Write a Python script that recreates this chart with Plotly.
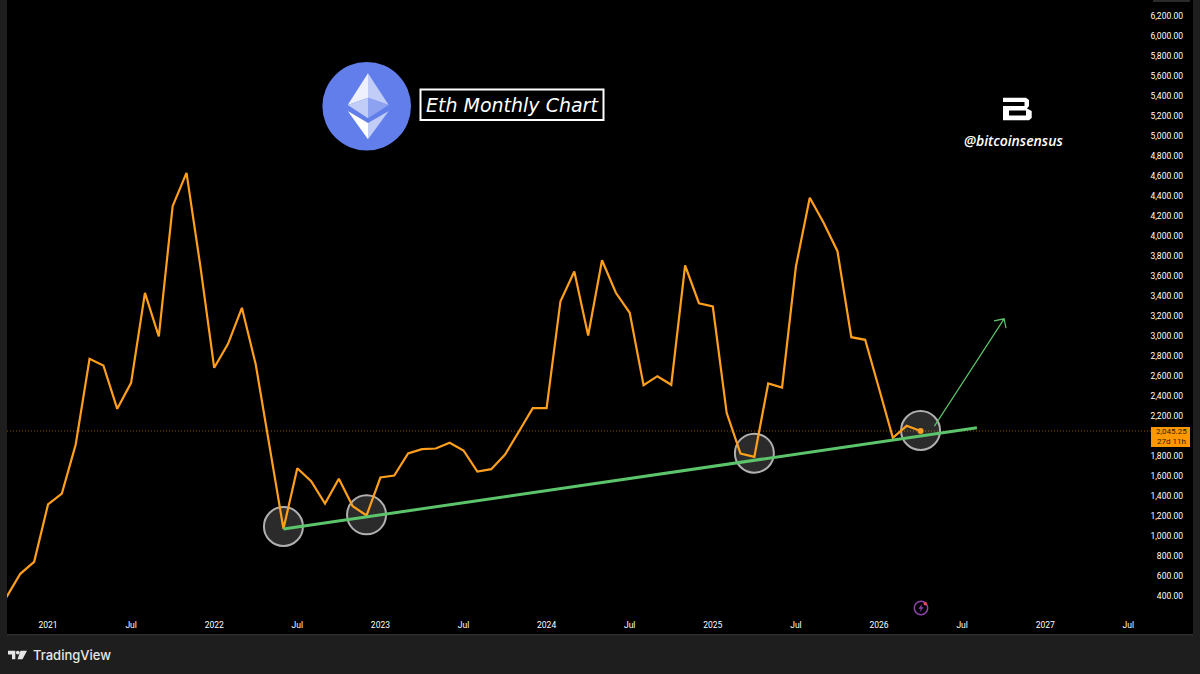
import plotly.graph_objects as go

W, H = 1200, 674

# monthly closes, Oct 2020 = -3, Jan 2021 = 0
months = list(range(-3, 64))
closes = [
    383, 617, 737,
    1310, 1420, 1910, 2767, 2700, 2267, 2527, 3427, 2990, 4293, 4627, 3693,
    2677, 2917, 3277, 2710, 1890, 1067, 1673, 1543, 1320, 1567, 1293, 1200,
    1580, 1600, 1820, 1863, 1870, 1927, 1850, 1640, 1663, 1810, 2040, 2273,
    2273, 3343, 3640, 3000, 3753, 3427, 3227, 2503, 2593, 2507, 3700, 3323,
    3290, 2227, 1820, 1787, 2520, 2480, 3690, 4377, 4127, 3843, 2983, 2957,
    2470, 1977, 2097, 2045,
]

trend_x = [17, 67.07]
trend_y = [1065, 2077]

circle_x = [17, 23, 51, 63]
circle_y = [1090, 1207, 1823, 2050]

arrow_x = [64.0, 69.03, 68.3, 69.03, 69.17]
arrow_y = [2093, 3167, 3147, 3167, 3073]

x_tick_vals = [0, 6, 12, 18, 24, 30, 36, 42, 48, 54, 60, 66, 72, 78]
x_tick_text = ["2021", "Jul", "2022", "Jul", "2023", "Jul", "2024", "Jul", "2025", "Jul", "2026", "Jul", "2027", "Jul"]
# 2,000 sits behind the last price tag
y_tick_vals = [v for v in range(400, 6400, 200) if v != 2000]
y_tick_text = [f"{v:,.2f}" for v in y_tick_vals]

last_price = 2045.25
ORANGE = "#ff9f1c"
GREEN = "#5cc46a"
PANEL = "#1e1e1e"


def px(x):
    return x / W


def py(y):
    return 1 - y / H


def poly(points, fill):
    path = "M " + " L ".join(f"{px(x)},{py(y)}" for x, y in points) + " Z"
    return dict(type="path", xref="paper", yref="paper", path=path,
                fillcolor=fill, line=dict(width=0), layer="above")


def disc(cx, cy, r, fill, line_color=None, line_width=0):
    return dict(type="circle", xref="paper", yref="paper",
                x0=px(cx - r), x1=px(cx + r), y0=py(cy + r), y1=py(cy - r),
                fillcolor=fill, line=dict(color=line_color, width=line_width), layer="above")


def rect(x0, y0, x1, y1, fill, line_color=None, line_width=0):
    return dict(type="rect", xref="paper", yref="paper",
                x0=px(x0), x1=px(x1), y0=py(y1), y1=py(y0),
                fillcolor=fill, line=dict(color=line_color, width=line_width), layer="above")


def label(x, y, text, size, color, family="Roboto", anchor="center", **font_extra):
    return dict(xref="paper", yref="paper", x=px(x), y=py(y), text=text, showarrow=False,
                xanchor=anchor, yanchor="middle", borderpad=0,
                font=dict(family=family, size=size, color=color, **font_extra))


fig = go.Figure()

fig.add_trace(go.Scatter(
    x=circle_x, y=circle_y, mode="markers", hoverinfo="skip",
    marker=dict(size=39, color="rgba(255,255,255,0.17)", line=dict(color="#b0b0b0", width=2)),
))
fig.add_trace(go.Scatter(x=arrow_x, y=arrow_y, mode="lines", line=dict(color=GREEN, width=1.2)))
fig.add_trace(go.Scatter(x=months, y=closes, mode="lines", line=dict(color=ORANGE, width=2.2)))
fig.add_trace(go.Scatter(x=trend_x, y=trend_y, mode="lines", line=dict(color=GREEN, width=3)))
fig.add_trace(go.Scatter(
    x=months[-1:], y=closes[-1:], mode="markers", marker=dict(size=6, color=ORANGE),
))

shapes = [
    # last price line
    dict(type="line", xref="paper", yref="y", x0=px(7), x1=px(1151), y0=last_price, y1=last_price,
         line=dict(color="rgba(255,152,0,0.55)", width=1, dash="1px,2px"), layer="below"),
    rect(1151, 427, 1190, 447, "#ff9800"),
    rect(1153, 0, 1190, 2, "#2a2a2a"),
    # bottom edge of the panel
    rect(7, 634, 1193, 635.5, "#2c2c2c"),

    # eth logo
    disc(366.7, 106.3, 44.3, "#627eea"),
    poly([(368, 73.3), (347.7, 105), (368, 97.7)], "#eef1fd"),
    poly([(368, 73.3), (388.7, 105), (368, 97.7)], "#c1ccf7"),
    poly([(347.7, 105), (368, 97.7), (368, 118.3)], "#c1ccf7"),
    poly([(388.7, 105), (368, 97.7), (368, 118.3)], "#8ea2f2"),
    poly([(347.7, 111), (368, 123), (368, 139.3)], "#ffffff"),
    poly([(388.7, 111), (368, 123), (368, 139.3)], "#c1ccf7"),

    # title box
    rect(420.5, 89.5, 603.5, 120, "rgba(0,0,0,0)", "#ffffff", 2),

    # bitcoinsensus mark
    poly([(1003, 97.7), (1026, 97.7), (1029, 100), (1029, 106), (1027, 108.5),
          (1031.7, 111), (1031.7, 118), (1029, 120.3), (1003, 120.3)], "#ffffff"),
    poly([(1003, 102), (1024.5, 102), (1024.5, 106), (1003, 106)], "#000000"),
    poly([(1009, 110.5), (1026, 110.5), (1026, 115.5), (1009, 115.5)], "#000000"),

    # tradingview mark
    poly([(8, 650.7), (15.3, 650.7), (15.3, 659.3), (12, 659.3), (12, 654.5), (8, 654.5)], "#e6e6e6"),
    disc(17.8, 652.6, 1.9, "#e6e6e6"),
    poly([(20.5, 650.7), (27, 650.7), (22.5, 659.3), (17.5, 659.3)], "#e6e6e6"),

    # bolt marker
    disc(921, 608, 6.7, "rgba(0,0,0,0)", "#8e44ad", 1.5),
    poly([(922, 604), (918.5, 608.7), (920.7, 608.7), (920, 612), (923.5, 607.3), (921.3, 607.3)], "#8e44ad"),
    disc(925.3, 603.7, 1.8, "#f0455a"),
]

annotations = [
    label(512, 105, "Eth Monthly Chart", 19, "#ffffff", "DejaVu Sans", style="italic"),
    label(1013.5, 140, "@bitcoinsensus", 14, "#ffffff", "Open Sans", style="italic", weight=600),
    label(1171, 431.2, f"{last_price:,.2f}", 8, "#2e1c00"),
    label(1171, 441.8, "27d 11h", 8, "#2e1c00"),
    label(32, 654.5, "TradingView", 13, "#e6e6e6", "Inter", anchor="left", weight=500),
]

fig.update_layout(
    width=W, height=H,
    margin=dict(l=0, r=0, t=0, b=0),
    paper_bgcolor=PANEL,
    plot_bgcolor="#000000",
    showlegend=False,
    shapes=shapes,
    annotations=annotations,
    font=dict(family="Roboto", size=8.5, color="#a8a8a8"),
)
fig.update_xaxes(
    domain=[px(7), px(1193)], range=[-2.96, 82.67],
    tickmode="array", tickvals=x_tick_vals, ticktext=x_tick_text,
    ticklabelposition="inside", ticks="", showgrid=False, zeroline=False, showline=False,
    ticklabelstandoff=1,
)
fig.update_yaxes(
    domain=[py(634), 1], range=[15, 6355], side="right",
    tickmode="array", tickvals=y_tick_vals, ticktext=y_tick_text,
    ticklabelposition="inside", ticks="", showgrid=False, zeroline=False, showline=False,
    ticklabelstandoff=7, ticklabelshift=1,
)

fig.write_html(
    "out.html",
    config=dict(displayModeBar=False),
    post_script="document.body.style.margin='0';document.body.style.overflow='hidden';"
                "document.body.style.background='#1e1e1e';",
)
